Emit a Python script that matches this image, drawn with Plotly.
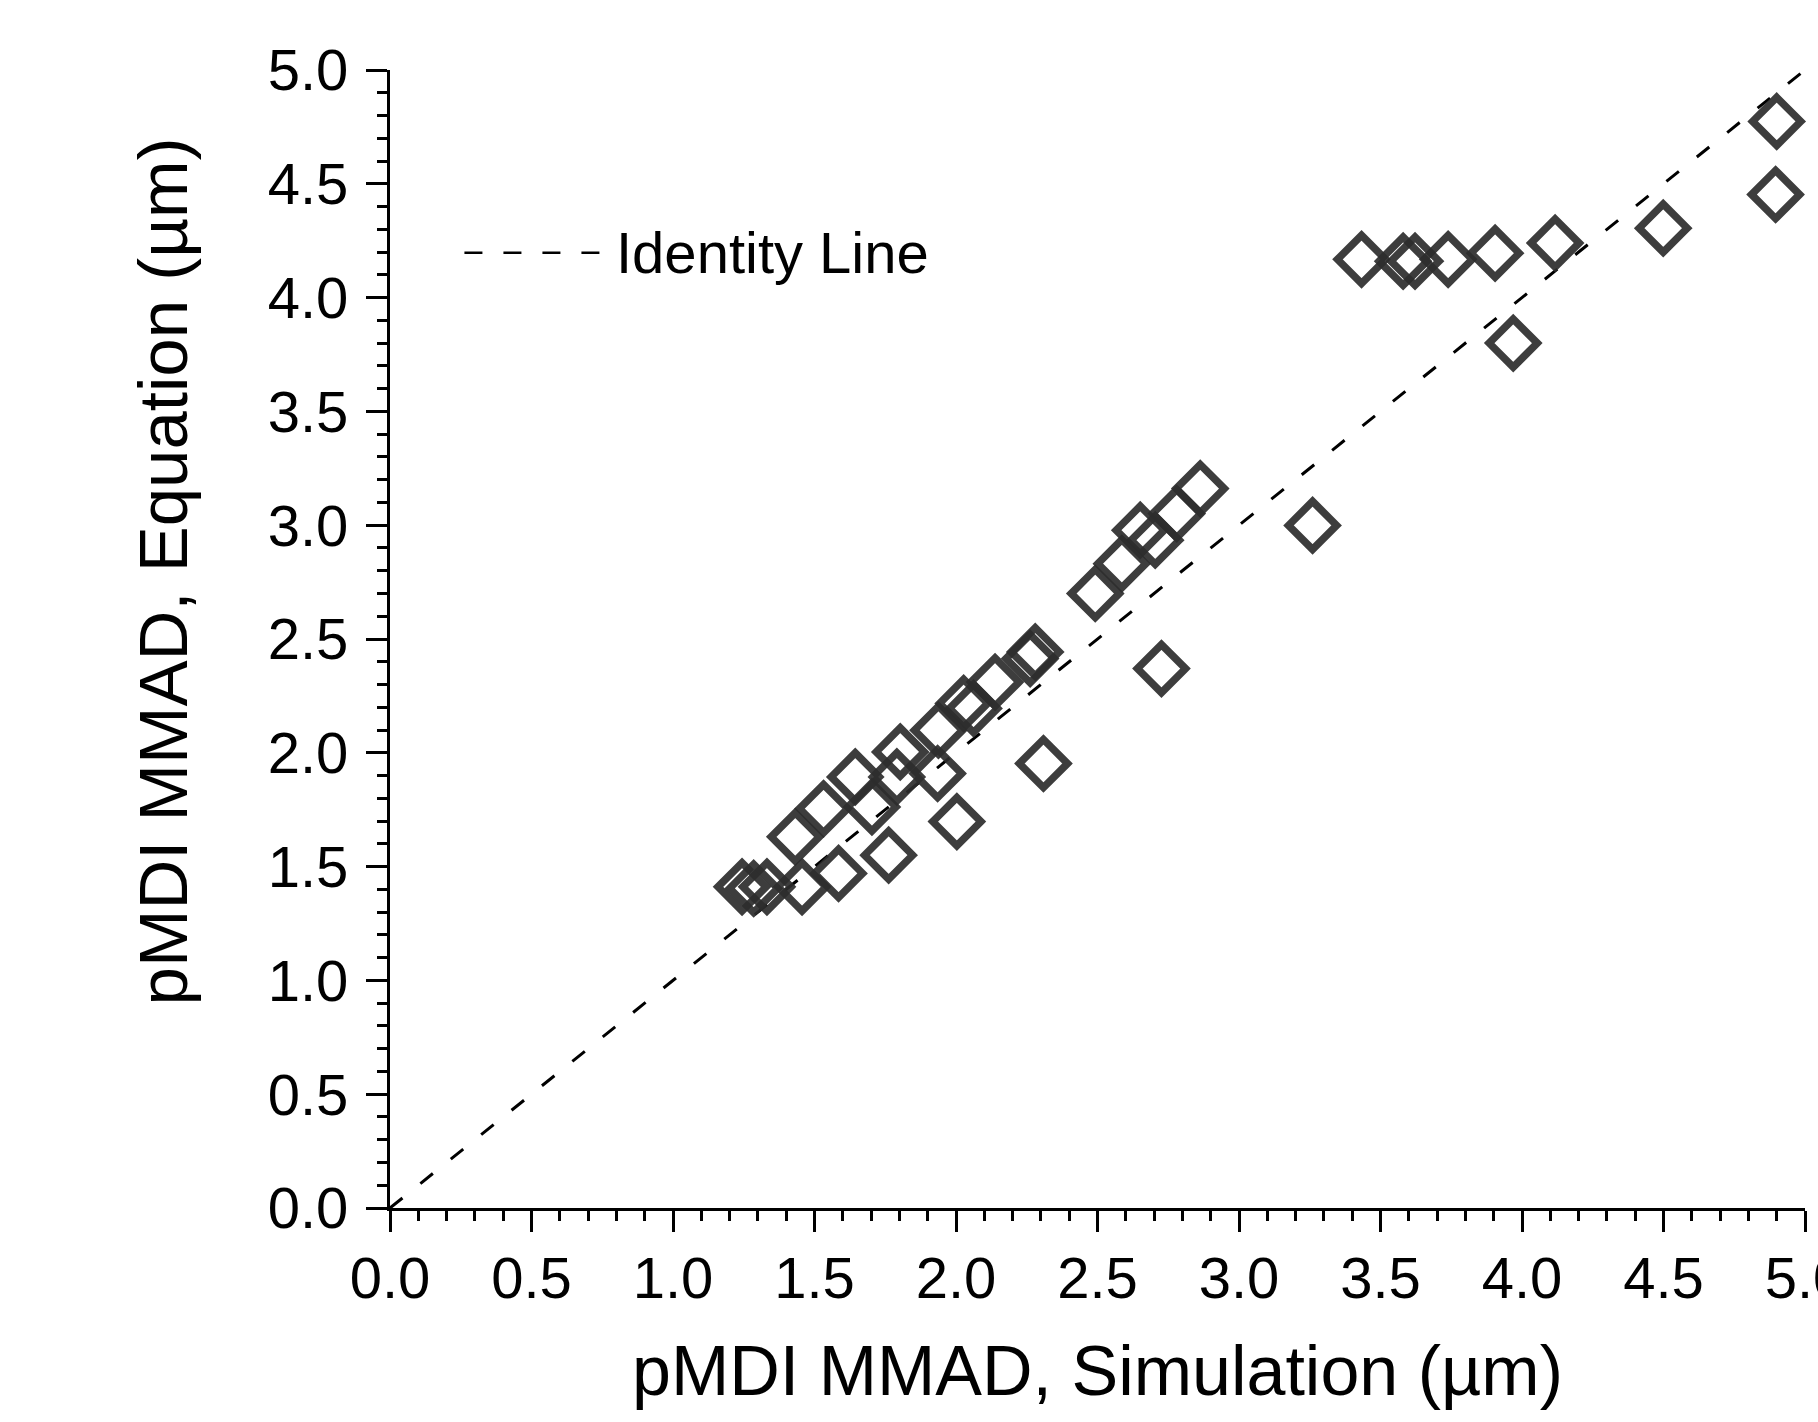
import plotly.graph_objects as go

# Data
mmad_simulation = [1.244, 1.285, 1.332, 1.456, 1.585, 1.432, 1.532, 1.644, 1.703, 1.762,
                   1.791, 1.803, 1.935, 1.938, 2.003, 2.027, 2.062, 2.138, 2.262, 2.280,
                   2.309, 2.492, 2.586, 2.651, 2.704, 2.726, 2.780, 2.863, 3.260, 3.433,
                   3.580, 3.622, 3.739, 3.905, 3.969, 4.117, 4.499, 4.896, 4.900]
mmad_equation = [1.411, 1.404, 1.411, 1.411, 1.470, 1.631, 1.755, 1.894, 1.762, 1.550,
                 1.894, 2.004, 1.909, 2.099, 1.698, 2.217, 2.195, 2.311, 2.414, 2.443,
                 1.953, 2.700, 2.831, 2.978, 2.934, 2.370, 3.051, 3.161, 2.999, 4.168,
                 4.160, 4.160, 4.168, 4.195, 3.800, 4.240, 4.305, 4.453, 4.774]
identity_x = [0.0, 5.0]
identity_y = [0.0, 5.0]

x_title = "pMDI MMAD, Simulation (µm)"
y_title = "pMDI MMAD, Equation (µm)"
legend_label = "Identity Line"

FONT = "Liberation Sans, Arial, sans-serif"
MARK = "rgba(45,45,45,0.92)"

fig = go.Figure()

fig.add_trace(go.Scatter(
    x=identity_x, y=identity_y, mode="lines", name=legend_label,
    line=dict(color="black", width=3, dash="16px,23px"),
    showlegend=False, cliponaxis=False,
))

fig.add_trace(go.Scatter(
    x=mmad_simulation, y=mmad_equation, mode="markers", name="pMDI MMAD",
    marker=dict(symbol="diamond-open", size=37, color=MARK,
                line=dict(width=7.5, color=MARK)),
    showlegend=False, cliponaxis=False,
))

axis_common = dict(
    range=[0, 5], dtick=0.5, tick0=0, tickformat=".1f",
    showgrid=False, zeroline=False,
    showline=True, linecolor="black", linewidth=3,
    ticks="outside", ticklen=21, tickwidth=3, tickcolor="black",
    tickfont=dict(family=FONT, size=58, color="black"),
    ticklabeloverflow="allow",
    minor=dict(dtick=0.1, ticks="outside", ticklen=10, tickwidth=2.5, tickcolor="black"),
)

fig.update_xaxes(**axis_common, ticklabelstandoff=-4,
                 title=dict(text=x_title, font=dict(family=FONT, size=70, color="black"), standoff=38))
fig.update_yaxes(**axis_common, ticklabelstandoff=6)

# Y-axis title (placed above centre, as in the reference)
fig.add_annotation(xref="paper", yref="paper", x=-0.160, y=0.559,
                   xanchor="center", yanchor="middle", showarrow=False, textangle=-90,
                   text=y_title, font=dict(family=FONT, size=69, color="black"))

# Manual legend entry (dashed sample + label)
fig.add_shape(type="line", xref="paper", yref="paper",
              x0=0.0526, x1=0.1494, y0=0.8395, y1=0.8395,
              line=dict(color="black", width=2.5, dash="18px,21px"))
fig.add_annotation(xref="paper", yref="paper", x=0.158, y=0.8395,
                   xanchor="left", yanchor="middle", showarrow=False,
                   text=legend_label, font=dict(family=FONT, size=58, color="black"))

fig.update_layout(
    width=1818, height=1422,
    margin=dict(l=390, r=13, t=70, b=214, autoexpand=False),
    paper_bgcolor="white", plot_bgcolor="white",
    font=dict(family=FONT, color="black"),
)

fig.write_html("out.html")
